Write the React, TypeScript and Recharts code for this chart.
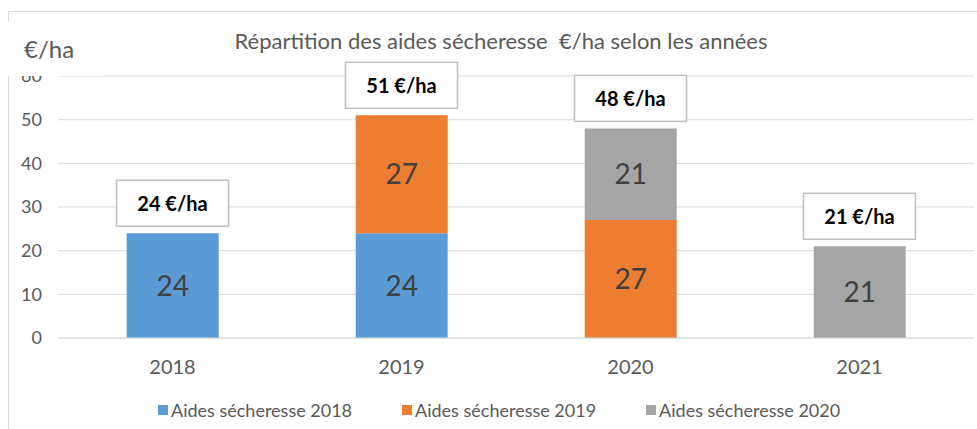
import React from 'react';
import { ComposedChart, Bar, Line, XAxis, YAxis, CartesianGrid, LabelList } from 'recharts';

const years = ['2018', '2019', '2020', '2021'];
const aides2018 = [24, 24, 0, 0];
const aides2019 = [0, 27, 27, 0];
const aides2020 = [0, 0, 21, 21];
const totals = [24, 51, 48, 21];
const yTicks = [0, 10, 20, 30, 40, 50, 60];

const seriesInfo = [
  { key: 'a2018', name: 'Aides sécheresse 2018', color: '#5B9BD5' },
  { key: 'a2019', name: 'Aides sécheresse 2019', color: '#ED7D31' },
  { key: 'a2020', name: 'Aides sécheresse 2020', color: '#A5A5A5' },
];

const data = years.map((y, i) => ({
  year: y,
  a2018: aides2018[i],
  a2019: aides2019[i],
  a2020: aides2020[i],
  total: totals[i],
}));

const FONT = 'Lato, "Noto Sans", sans-serif';

const hideZero = (v: any) => (v ? v : '');

// boxed total above each stack
const TotalBox = (props: any) => {
  const { x, y, value } = props;
  if (x == null || y == null) return null;
  const w = 112;
  const h = 46;
  const gap = 7;
  return (
    <g>
      <rect x={x - w / 2} y={y - h - gap} width={w} height={h} fill="#fff" stroke="#BFBFBF" strokeWidth={1.5} />
      <text x={x} y={y - gap - h / 2} textAnchor="middle" dominantBaseline="central" fontSize={20} fontWeight="bold" fill="#000" fontFamily={FONT}>
        {value} €/ha
      </text>
    </g>
  );
};

export default function App() {
  return (
    <div style={{ position: 'absolute', left: 0, top: 0, width: 977, height: 429, background: '#fff', overflow: 'hidden' }}>
      <div style={{ position: 'absolute', left: 8, top: 11, width: 990, height: 430, border: '1px solid #D9D9D9' }} />
      <div style={{ position: 'absolute', left: 0, top: 0 }}>
        <ComposedChart width={977} height={429} data={data} margin={{ top: 76, right: 3, bottom: 33, left: 0 }} barCategoryGap="30%">
          <text x={501} y={40} textAnchor="middle" dominantBaseline="central" fontSize={22} fill="#595959" fontFamily={FONT} style={{ whiteSpace: 'pre' }}>
            {'Répartition des aides sécheresse  €/ha selon les années'}
          </text>
          <CartesianGrid vertical={false} stroke="#D9D9D9" />
          <XAxis dataKey="year" axisLine={{ stroke: '#D9D9D9' }} tickLine={false} tickSize={0} tickMargin={22} height={58} tick={{ fill: '#595959', fontSize: 20, fontFamily: FONT }} />
          <YAxis domain={[0, 60]} ticks={yTicks} width={58} axisLine={false} tickLine={false} tickSize={0} tickMargin={16} tick={{ fill: '#595959', fontSize: 18, fontFamily: FONT }} />
          {seriesInfo.map((s) => (
            <Bar key={s.key} dataKey={s.key} name={s.name} stackId="a" fill={s.color} isAnimationActive={false}>
              <LabelList dataKey={s.key} position="center" formatter={hideZero} fill="#404040" fontSize={28} fontFamily={FONT} />
            </Bar>
          ))}
          <Line dataKey="total" stroke="none" dot={false} activeDot={false} legendType="none" isAnimationActive={false}>
            <LabelList dataKey="total" content={<TotalBox />} />
          </Line>
        </ComposedChart>
      </div>
      <div style={{ position: 'absolute', left: 0, top: 22, width: 104, height: 54, background: '#fff' }} />
      <div style={{ position: 'absolute', left: 24, top: 34, fontFamily: FONT, fontSize: 24, color: '#595959', lineHeight: '30px' }}>€/ha</div>
      <div style={{ position: 'absolute', left: 158, top: 398, display: 'flex', gap: 50, fontFamily: FONT, fontSize: 18, color: '#595959', lineHeight: '24px' }}>
        {seriesInfo.map((s) => (
          <div key={s.key} style={{ display: 'flex', alignItems: 'center' }}>
            <span style={{ width: 10, height: 10, background: s.color, marginRight: 3, display: 'inline-block' }} />
            <span>{s.name}</span>
          </div>
        ))}
      </div>
    </div>
  );
}
